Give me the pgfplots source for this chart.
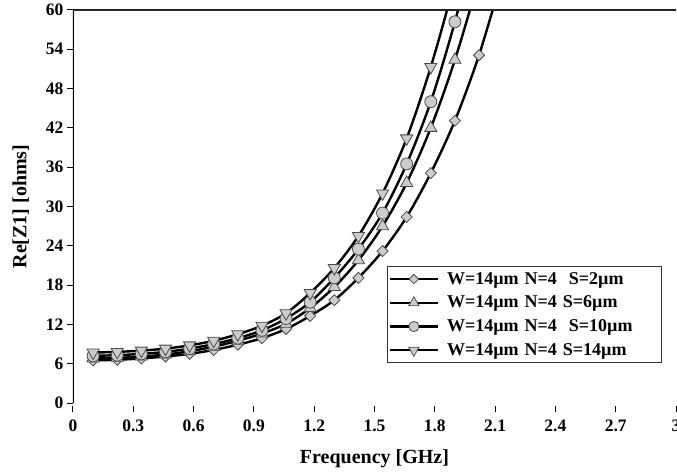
\documentclass[border=0pt]{standalone}
\usepackage{pgfplots}
\pgfplotsset{compat=1.18}
\usepackage{fontspec}
\setmainfont{Liberation Serif}
\begin{document}
\begin{tikzpicture}
\pgfplotstableread{
x d u c v
0.10 6.5 6.8 7.2 7.7
0.22 6.6 6.9 7.3 7.8
0.34 6.8 7.1 7.5 8.0
0.46 7.1 7.4 7.8 8.3
0.58 7.5 7.9 8.3 8.8
0.70 8.1 8.6 9.0 9.5
0.82 8.9 9.5 9.9 10.5
0.94 9.9 10.6 11.1 11.8
1.06 11.3 12.1 12.9 13.7
1.18 13.3 14.5 15.4 16.8
1.30 15.7 17.7 19.1 20.6
1.42 19.1 21.8 23.5 25.5
1.54 23.2 27.0 29.0 32.0
1.66 28.4 33.6 36.5 40.4
1.78 35.1 42.0 46.0 51.3
1.90 43.1 52.4 58.2 64.5
2.02 53.1 65.0 73.0 80.0
2.14 65.5 80.0 90.0 99.0
}\data
\begin{axis}[
  scale only axis, width=603pt, height=393pt,
  xmin=0, xmax=3, ymin=0, ymax=60,
  axis line style={draw=none},
  xtick={0,0.3,...,3.0},
  xticklabels={0,0.3,0.6,0.9,1.2,1.5,1.8,2.1,2.4,2.7,3},
  ytick={0,6,...,60},
  tick align=outside, xtick pos=bottom, ytick pos=left,
  major tick length=6pt,
  tick style={black, line width=1pt},
  xtick style={yshift=-3pt},
  xticklabel style={yshift=-7pt},
  /pgf/number format/assume math mode=true,
  tick label style={font=\bfseries\fontsize{17.5}{17.5}\selectfont},
  xlabel={Frequency [GHz]}, ylabel={Re[Z1] [ohms]},
  label style={font=\bfseries\fontsize{20}{20}\selectfont},
  xlabel style={yshift=-11pt},
  ylabel style={yshift=10pt},
  legend style={at={(0.521,0.349)}, anchor=north west, draw=black!80, line width=1pt,
    font=\bfseries\fontsize{18}{18}\selectfont, row sep=6.3pt, inner xsep=1pt, inner ysep=4pt,
    cells={anchor=west}, nodes={inner xsep=8pt, text width=205pt}},
  legend image code/.code={\draw[#1, mark=none] (-2pt,0pt) -- (46pt,0pt); \draw[#1, every mark/.append style={scale=0.85}] plot coordinates {(22pt,0pt)};},
  every axis plot/.append style={black, line width=2.4pt,
     mark options={fill=black!20, draw=black!70, line width=0.8pt, solid}},
  clip=true,
]
\addplot[smooth, mark=square*, mark size=3.9pt, every mark/.append style={rotate=45}] table[x=x,y=d]{\data};
\addlegendentry{W=14\textmu m N=4\ \ S=2\textmu m}
\addplot[smooth, mark=triangle*, mark size=7pt] table[x=x,y=u]{\data};
\addlegendentry{W=14\textmu m N=4 S=6\textmu m}
\addplot[smooth, mark=*, mark size=6pt] table[x=x,y=c]{\data};
\addlegendentry{W=14\textmu m N=4\ \ S=10\textmu m}
\addplot[smooth, mark=triangle*, mark size=7pt, every mark/.append style={rotate=180}] table[x=x,y=v]{\data};
\addlegendentry{W=14\textmu m N=4 S=14\textmu m}
\draw[black, line width=1.6pt] (rel axis cs:0,0) -- (rel axis cs:0,1);
\draw[black!85, line width=1.6pt] (rel axis cs:0,1) -- (rel axis cs:1.01,1);
\coordinate (O) at (rel axis cs:0,0);
\end{axis}
\pgfresetboundingbox
\path[use as bounding box] ([shift={(-73pt,-71pt)}]O) rectangle ([shift={(604pt,403pt)}]O);
\end{tikzpicture}
\end{document}
